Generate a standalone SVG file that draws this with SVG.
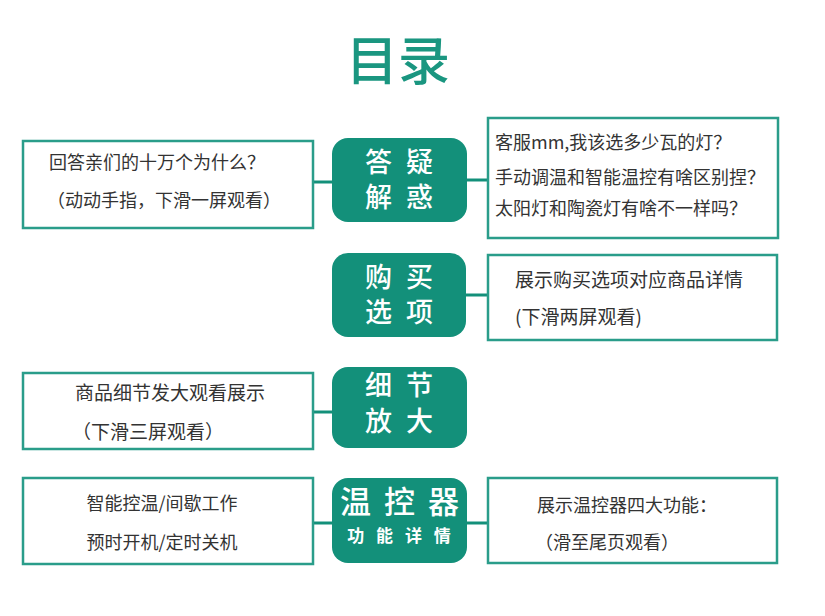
<svg xmlns="http://www.w3.org/2000/svg" width="825" height="616" viewBox="0 0 825 616">
<style>
.box{fill:#fff;stroke:#2a9d8a;stroke-width:2.5}
.pill{fill:#13907a}
.t{font-family:"Noto Sans CJK SC","Noto Sans",sans-serif;fill:#333;font-size:18px}
.t19{font-size:19px}
.p{font-family:"Noto Sans CJK SC","Noto Sans",sans-serif;fill:#fff;font-size:27px;font-weight:500;text-anchor:middle;letter-spacing:4px}
.c{stroke:#13907a;stroke-width:3;fill:none}
</style>
<rect width="825" height="616" fill="#fff"/>
<text x="398" y="80" font-family="Noto Sans CJK SC, sans-serif" font-size="52" font-weight="500" fill="#1a9680" text-anchor="middle">目录</text>
<g id="connectors">
<line class="c" x1="313" y1="182" x2="333" y2="182"/>
<line class="c" x1="466" y1="180" x2="489" y2="180"/>
<line class="c" x1="466" y1="295" x2="489" y2="295"/>
<line class="c" x1="313" y1="412" x2="333" y2="412"/>
<line class="c" x1="313" y1="523" x2="333" y2="523"/>
<line class="c" x1="466" y1="523" x2="489" y2="523"/>
</g>
<g id="left1">
<rect class="box" x="23" y="141" width="290" height="87"/>
<text class="t" x="49" y="168.5">回答亲们的十万个为什么？</text>
<text class="t" x="47" y="206.5">（动动手指，下滑一屏观看）</text>
</g>
<g id="pill1">
<rect class="pill" x="332" y="138" width="135" height="84" rx="16"/>
<text class="p" x="401" y="172">答 疑</text>
<text class="p" x="401" y="207">解 惑</text>
</g>
<g id="right1">
<rect class="box" x="488" y="118" width="290" height="120"/>
<text class="t" x="495" y="148.5">客服mm,我该选多少瓦的灯？</text>
<text class="t" x="495" y="183.5">手动调温和智能温控有啥区别捏？</text>
<text class="t" x="495" y="214.5">太阳灯和陶瓷灯有啥不一样吗？</text>
</g>
<g id="pill2">
<rect class="pill" x="332" y="253" width="134" height="84" rx="16"/>
<text class="p" x="401" y="287">购 买</text>
<text class="p" x="401" y="322">选 项</text>
</g>
<g id="right2">
<rect class="box" x="488" y="255" width="289" height="85"/>
<text class="t t19" x="515" y="287">展示购买选项对应商品详情</text>
<text class="t t19" x="515" y="324">(下滑两屏观看)</text>
</g>
<g id="left3">
<rect class="box" x="23" y="373" width="290" height="76"/>
<text class="t t19" x="75" y="400">商品细节发大观看展示</text>
<text class="t t19" x="72" y="439">（下滑三屏观看）</text>
</g>
<g id="pill3">
<rect class="pill" x="332" y="367" width="135" height="81" rx="16"/>
<text class="p" x="401" y="395">细 节</text>
<text class="p" x="401" y="431">放 大</text>
</g>
<g id="left4">
<rect class="box" x="23" y="478" width="290" height="86"/>
<text class="t" x="162" y="510" text-anchor="middle">智能控温/间歇工作</text>
<text class="t" x="162" y="549" text-anchor="middle">预时开机/定时关机</text>
</g>
<g id="pill4">
<rect class="pill" x="332" y="478" width="135" height="85" rx="16"/>
<text class="p" x="401" y="513" style="font-size:31px;letter-spacing:3px">温 控 器</text>
<text class="p" x="401" y="542" style="font-size:17px;font-weight:bold;letter-spacing:4px">功 能 详 情</text>
</g>
<g id="right4">
<rect class="box" x="488" y="478" width="289" height="85"/>
<text class="t" x="627" y="512" text-anchor="middle">展示温控器四大功能：</text>
<text class="t" x="535" y="549">（滑至尾页观看）</text>
</g>
</svg>
